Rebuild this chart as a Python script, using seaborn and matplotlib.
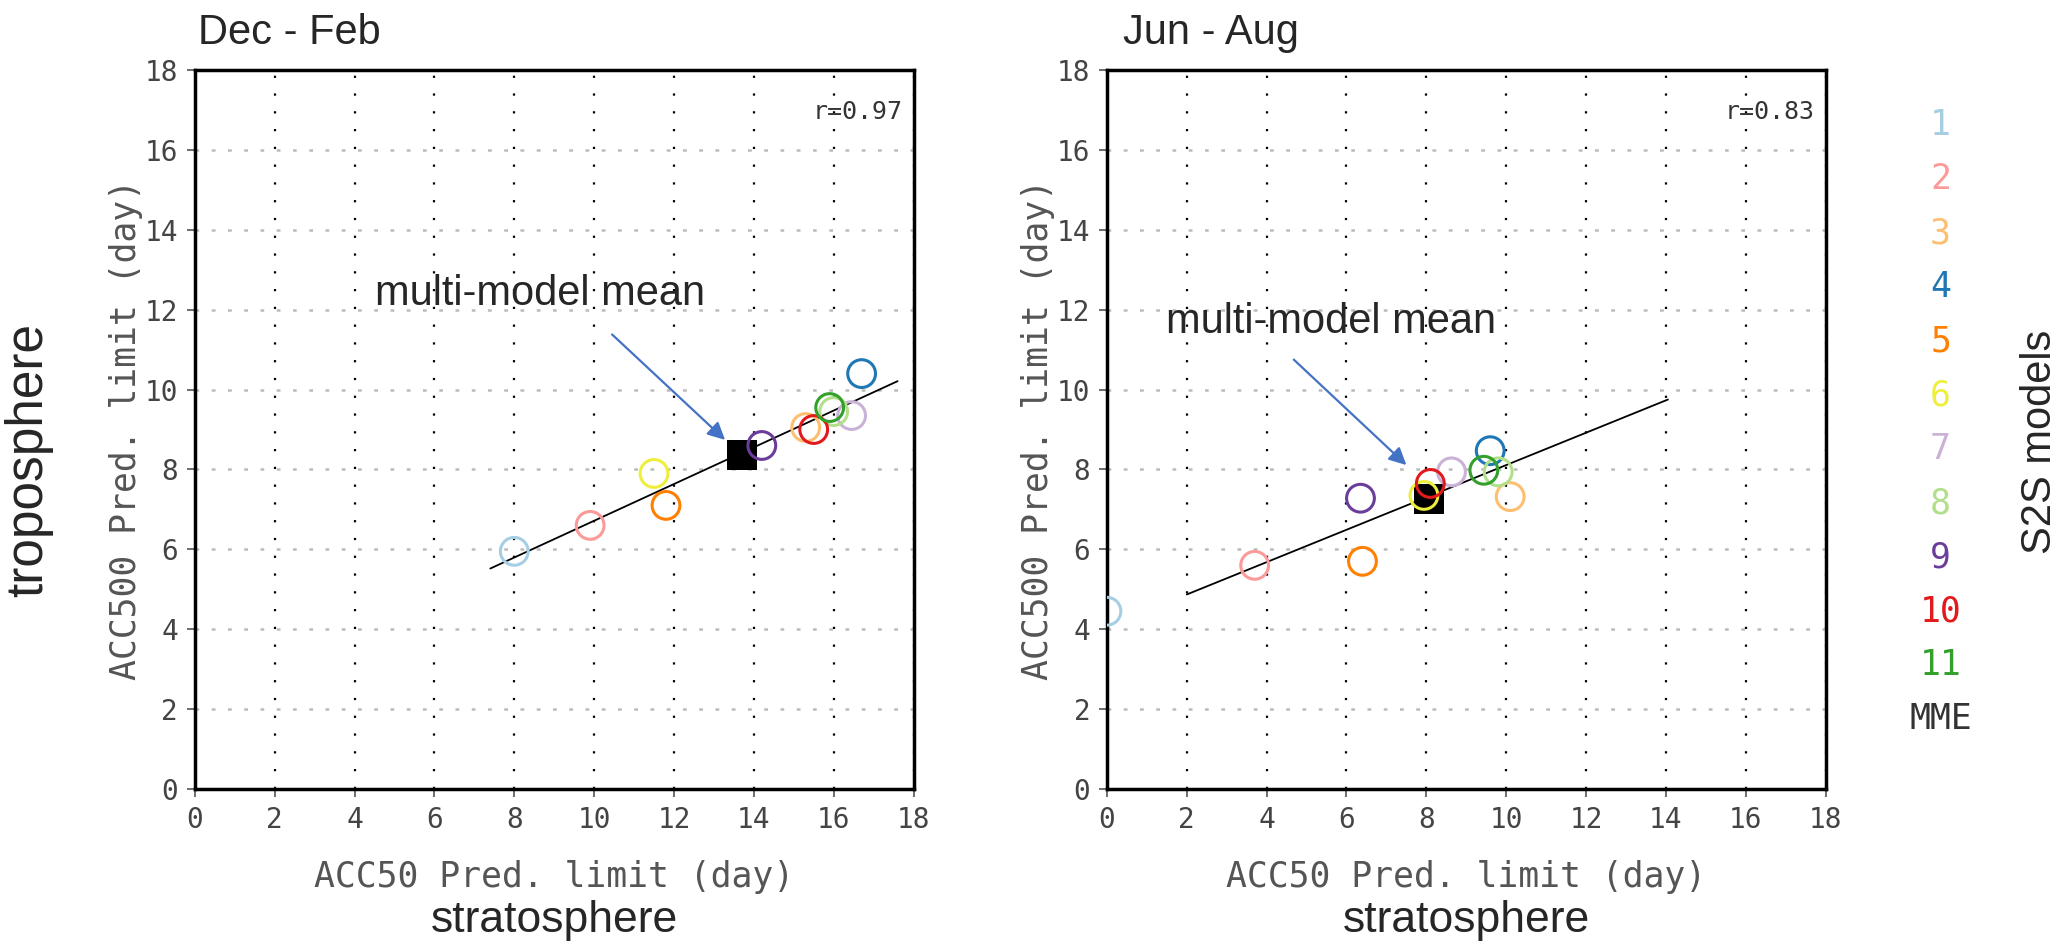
import numpy as np
import pandas as pd
import seaborn as sns
from matplotlib import pyplot as plt

# S2S models, colour for each
models = ['1', '2', '3', '4', '5', '6', '7', '8', '9', '10', '11']
model_colors = ['#a6cee3', '#fb9a99', '#fdbf6f', '#1f78b4', '#ff7f00', '#eeee3c',
                '#cab2d6', '#b2df8a', '#6a3d9a', '#e31a1c', '#33a02c']

# Dec - Feb  (x: ACC50 limit, y: ACC500 limit)
djf_strat = [8.0, 9.9, 15.3, 16.7, 11.8, 11.5, 16.45, 16.0, 14.2, 15.5, 15.9]
djf_trop = [5.95, 6.6, 9.05, 10.4, 7.1, 7.9, 9.35, 9.45, 8.6, 9.0, 9.55]
djf_mme = [13.7, 8.35]
djf_fit_x = [7.4, 17.6]
djf_fit_y = [5.52, 10.21]
djf_r = 'r=0.97'

# Jun - Aug
jja_strat = [0.0, 3.7, 10.1, 9.6, 6.4, 7.94, 8.63, 9.8, 6.35, 8.1, 9.44]
jja_trop = [4.45, 5.6, 7.32, 8.47, 5.7, 7.35, 7.94, 7.94, 7.28, 7.65, 7.98]
jja_mme = [8.06, 7.25]
jja_fit_x = [2.0, 14.05]
jja_fit_y = [4.87, 9.75]
jja_r = 'r=0.83'

ticks = list(range(0, 19, 2))

sns.set_style('white')
plt.rcParams['font.family'] = ['Liberation Sans', 'DejaVu Sans']
MONO = 'DejaVu Sans Mono'


def panel(ax, xs, ys, mme, fit_x, fit_y, r_text, title, title_x, note_xy,
          arrow_from, arrow_to):
    ax.set_xlim(0, 18)
    ax.set_ylim(0, 18)
    ax.set_xticks(ticks)
    ax.set_yticks(ticks)
    ax.grid(axis='x', color='k', lw=1.6, ls=(0, (1, 7)), zorder=0)
    ax.grid(axis='y', color='#bbbbbb', lw=1.8, ls=(0, (1.5, 5)), zorder=0)
    ax.set_axisbelow(True)

    sns.lineplot(x=fit_x, y=fit_y, color='k', lw=1.3, ax=ax, zorder=2)

    sns.scatterplot(x=[mme[0]], y=[mme[1]], marker='s', s=470, color='k',
                    linewidth=0, ax=ax, zorder=3)

    df = pd.DataFrame({'model': models, 'x': xs, 'y': ys})
    sns.scatterplot(data=df, x='x', y='y', hue='model',
                    palette=dict(zip(models, model_colors)),
                    s=400, linewidth=2.2, legend=False, ax=ax, zorder=4)
    pts = ax.collections[-1]
    pts.set_edgecolors(pts.get_facecolors())
    pts.set_facecolors('none')

    for s in ax.spines.values():
        s.set_color('k')
        s.set_linewidth(2.5)
    ax.tick_params(direction='out', length=6, width=1.2, color='#555555',
                   labelsize=20, labelcolor='#444444', pad=6,
                   bottom=True, left=True)
    for lab in ax.get_xticklabels() + ax.get_yticklabels():
        lab.set_family(MONO)
    ax.set_xlabel('')
    ax.set_ylabel('')
    ax.text(0.5, -0.122, 'ACC50 Pred. limit (day)', transform=ax.transAxes,
            ha='center', va='center', fontfamily=MONO, fontsize=25, color='#555555')
    ax.text(-0.096, 0.5, 'ACC500 Pred. limit (day)', transform=ax.transAxes,
            rotation=90, ha='center', va='center', fontfamily=MONO, fontsize=25,
            color='#555555')

    ax.text(0.985, 0.941, r_text, transform=ax.transAxes, ha='right', va='center',
            fontfamily=MONO, fontsize=18, color='#333333')
    ax.text(title_x, 1.052, title, transform=ax.transAxes, ha='left', va='center',
            fontsize=30)
    ax.text(0.5, -0.183, 'stratosphere', transform=ax.transAxes, ha='center',
            va='center', fontsize=32)

    ax.text(note_xy[0], note_xy[1], 'multi-model mean', ha='left', va='center',
            fontsize=30, zorder=5)
    ax.annotate('', xy=arrow_to, xytext=arrow_from,
                arrowprops=dict(arrowstyle='-|>', color='#4472c4', lw=1.6,
                                mutation_scale=26, shrinkA=0, shrinkB=0))


fig = plt.figure(figsize=(20.71, 9.49), dpi=100)
ax1 = fig.add_axes([0.0941, 0.1686, 0.347, 0.7576])
ax2 = fig.add_axes([0.5345, 0.1686, 0.347, 0.7576])

panel(ax1, djf_strat, djf_trop, djf_mme, djf_fit_x, djf_fit_y, djf_r, 'Dec - Feb', 0.005,
      (4.5, 12.4), (10.45, 11.38), (13.28, 8.74))
panel(ax2, jja_strat, jja_trop, jja_mme, jja_fit_x, jja_fit_y, jja_r, 'Jun - Aug', 0.022,
      (1.49, 11.7), (4.68, 10.75), (7.5, 8.11))

fig.text(0.014, 0.515, 'troposphere', rotation=90, ha='center', va='center', fontsize=37)

# model key on the right
for i, (m, c) in enumerate(zip(models + ['MME'], model_colors + ['#333333'])):
    fig.text(0.937, 0.868 - i * 0.0569, m, color=c, fontfamily=MONO, fontsize=25,
             ha='center', va='center')
fig.text(0.985, 0.534, 'S2S models', rotation=90, ha='center', va='center', fontsize=30)

fig.savefig('out.png', dpi=100)
